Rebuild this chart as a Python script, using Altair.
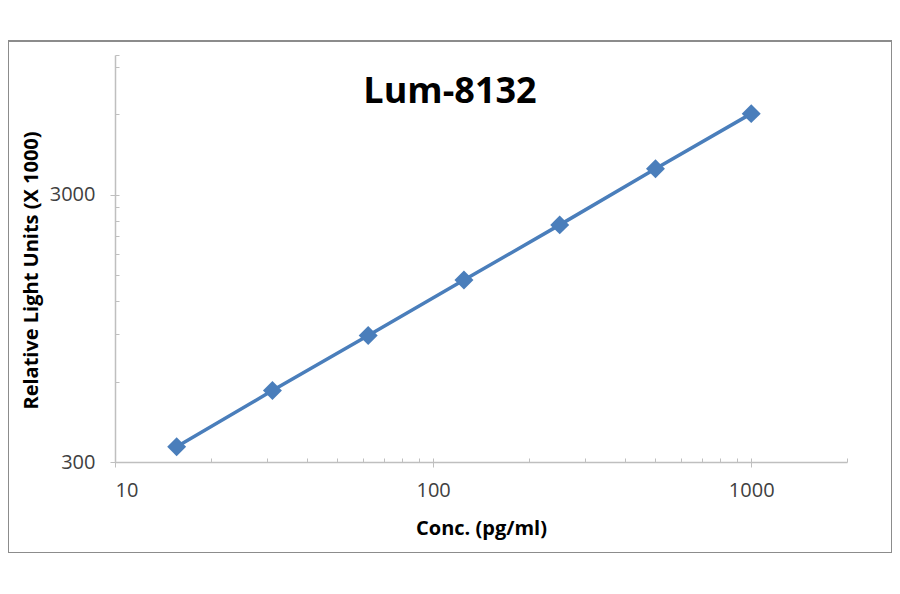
import altair as alt
import pandas as pd

# standard curve values
conc = [15.625, 31.25, 62.5, 125, 250, 500, 1000]
rlu = [342, 555, 893, 1438, 2314, 3756, 6034]

x_major = [10, 100, 1000]
x_minor = [20, 30, 40, 50, 60, 70, 80, 90, 200, 300, 400, 500, 600, 700, 800, 900, 2000]
y_major = [300, 3000]
y_minor = [600, 900, 1200, 1500, 1800, 2100, 2400, 2700, 6000, 9000, 10000]

source = pd.DataFrame({"conc": conc, "rlu": rlu})

W, H = 732, 407
blue = "#4A7EBB"
axis_gray = "#BFBFBF"
text_gray = "#404040"
font = "Open Sans"

xscale = alt.Scale(type="log", domain=[10, 2000], nice=False)
yscale = alt.Scale(type="log", domain=[300, 10000], nice=False)

base = alt.Chart(source)

line = base.mark_line(color=blue, strokeWidth=3.5).encode(
    x=alt.X("conc:Q", scale=xscale, axis=alt.Axis(
        values=x_major, format="d", grid=False, domainColor=axis_gray, domainWidth=1.5,
        tickColor=axis_gray, tickSize=5, labelFont=font, labelFontSize=20,
        labelColor=text_gray, labelPadding=13, title="Conc. (pg/ml)",
        titleFont=font, titleFontSize=20, titleFontWeight="bold", titleColor="black",
        titleY=66, titleBaseline="middle")),
    y=alt.Y("rlu:Q", scale=yscale, axis=alt.Axis(
        values=y_major, format="d", grid=False, domainColor=axis_gray, domainWidth=1.5,
        tickColor=axis_gray, tickSize=5, labelFont=font, labelFontSize=20,
        labelColor=text_gray, labelPadding=15, title="Relative Light Units (X 1000)",
        titleFont=font, titleFontSize=20, titleFontWeight="bold", titleColor="black",
        titleX=-84, titleY=215, titleAngle=-90, titleBaseline="middle", titleAlign="center")),
)

points = base.mark_point(shape="diamond", filled=True, size=360, color=blue, opacity=1).encode(
    x=alt.X("conc:Q", scale=xscale, axis=alt.Axis(
        orient="top", offset=-H, values=x_major + x_minor, labels=False, domain=False,
        grid=False, tickColor=axis_gray, tickSize=4, title=None)),
    y=alt.Y("rlu:Q", scale=yscale, axis=alt.Axis(
        orient="right", offset=-W, values=y_major + y_minor, labels=False, domain=False,
        grid=False, tickColor=axis_gray, tickSize=4, title=None)),
)

deco = alt.Chart(pd.DataFrame({"a": [0]}))

# outer chart-area border
frame = deco.mark_rect(
    fillOpacity=0, stroke="#8C8C8C", strokeWidth=2
).encode(x=alt.value(-107), x2=alt.value(777), y=alt.value(-14), y2=alt.value(498))

# chart title sits inside the plot area
title = deco.mark_text(
    text="Lum-8132", font=font, fontSize=36, fontWeight="bold", color="black",
    align="center", baseline="alphabetic"
).encode(x=alt.value(335), y=alt.value(48))

chart = alt.layer(frame, line, points, title).resolve_axis(
    x="independent", y="independent"
).properties(
    width=W,
    height=H,
    autosize=alt.AutoSizeParams(type="none"),
    padding={"left": 107, "top": 47, "right": 45, "bottom": 91},
).configure_view(
    strokeWidth=0
)

chart.save("out.html", embed_options={"renderer": "svg", "actions": False})
